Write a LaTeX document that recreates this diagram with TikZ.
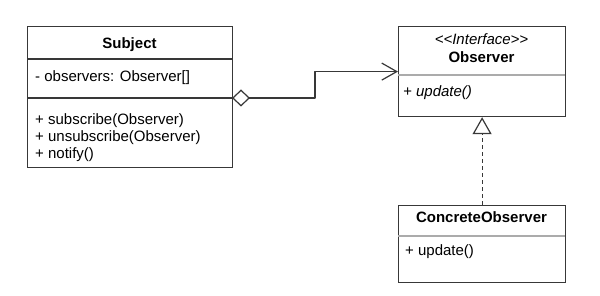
\documentclass[tikz,border=0pt]{standalone}
\usepackage{fontspec}
\setmainfont{Liberation Sans}
\usetikzlibrary{arrows.meta,calc}
\definecolor{umldark}{HTML}{383838}
\definecolor{umlrule}{HTML}{ABABAB}
\tikzset{
  classbox/.style={draw=umldark, line width=1.2pt, anchor=north west, inner sep=0pt},
  member/.style={inner sep=0pt, text=black, font=\fontsize{15}{17}\selectfont},
  title/.style={member, font=\fontsize{15}{17}\selectfont\bfseries},
  abstract/.style={member, font=\fontsize{15}{17}\selectfont\itshape},
  aggr/.style={draw=umldark, line width=1.2pt, line join=round,
    {Diamond[open, length=18pt, width=17pt]}-{Straight Barb[length=15pt, width=17pt]}},
  realize/.style={draw=umldark, line width=1.2pt, dash pattern=on 4pt off 3pt,
    -{Triangle[open, length=17pt, width=19pt, fill=white]}}
}
\begin{document}
\begin{tikzpicture}[x=1pt,y=-1pt,line cap=butt]
  \useasboundingbox[fill=white] (0,0) rectangle (600,296);
  % boxes
  \node[classbox, minimum width=205pt, minimum height=141pt] (subj) at (27,26) {};
  \node[classbox, minimum width=167pt, minimum height=90pt] (obs) at (398,26) {};
  \node[classbox, minimum width=167pt, minimum height=77pt] (conc) at (398,205) {};
  % compartments
  \draw[umldark, line width=1.2pt] (27,59) -- (232,59);
  \draw[umldark, line width=1.2pt] (27,98) -- (232,98);
  \draw[umlrule, line width=1.2pt] (398,75) -- (565,75);
  \draw[umlrule, line width=1.2pt] (398,236) -- (565,236);
  % Subject
  \node[title, anchor=base] (subjname) at (129.5,49) {Subject};
  \node[member, anchor=base west] (subjattr) at (35,82) {- observers: Observer[]};
  \node[member, anchor=base west, align=left] (subjops) at (35,159)
    {+ subscribe(Observer)\\+ unsubscribe(Observer)\\+ notify()};
  % Observer
  \node[abstract, anchor=base] (obsstereo) at (481.5,45)
    {<\kern0pt<Interface>\kern0pt>};
  \node[title, anchor=base] (obsname) at (481.5,63) {Observer};
  \node[abstract, anchor=base west] (obsops) at (403,97) {+ update()};
  % ConcreteObserver
  \node[title, anchor=base] (concname) at (481.5,223) {ConcreteObserver};
  \node[member, anchor=base west] (concops) at (405,256) {+ update()};
  % relations
  \coordinate (agg) at (232,98);
  \draw[aggr] (agg) -| ($(agg)!.5!(obs.west)$) |- (obs.west);
  \draw[realize] (conc.north) -- (obs.south);
\end{tikzpicture}
\end{document}
